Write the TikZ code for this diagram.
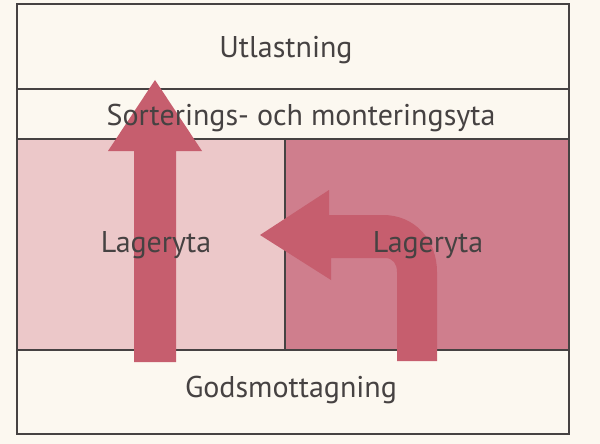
\documentclass[tikz,border=0pt]{standalone}
\usepackage{fontspec}
\setmainfont{PT Sans}
\definecolor{cream}{RGB}{252,248,240}
\definecolor{lightrose}{RGB}{236,200,201}
\definecolor{darkrose}{RGB}{207,126,141}
\definecolor{flowred}{RGB}{198,94,110}
\definecolor{inkgray}{RGB}{70,66,66}
\tikzset{
  band/.style={draw=inkgray,line width=1.6pt},
  lbl/.style={anchor=base,text=inkgray,inner sep=0pt,font=\fontsize{30}{34}\selectfont},
  flow/.style={fill=flowred,draw=none}
}
\begin{document}
\begin{tikzpicture}[x=1pt,y=-1pt]
\fill[cream] (0,0) rectangle (600,444);
\useasboundingbox (0,0) rectangle (600,444);

\fill[lightrose] (17,139) rectangle (285,350);
\fill[darkrose] (285,139) rectangle (569,350);
\draw[band] (17,4) rectangle (569,434);
\draw[band] (17,89) -- (569,89);
\draw[band] (17,139) -- (569,139);
\draw[band] (17,350) -- (569,350);
\draw[band] (285,139) -- (285,350);

% straight flow
\fill[flow] (134,362) -- (134,151) -- (108,151) -- (155,80) -- (202,151)
  -- (176,151) -- (176,362) -- cycle;
% turning flow
\fill[flow] (260,235) -- (329,190) -- (329,215) -- (383,215)
  .. controls (415,215) and (437,240) .. (437,272) -- (437,361) -- (397,361)
  -- (397,272) .. controls (397,264) and (393,258) .. (385,258)
  -- (331,258) -- (331,280) -- cycle;

\node[lbl] (utl) at (286,58) {Utlastning};
\node[lbl] (sort) at (301,125) {Sorterings- och monteringsyta};
\node[lbl] (lagv) at (156,252) {Lageryta};
\node[lbl] (lagh) at (428,252) {Lageryta};
\node[lbl] (gods) at (291,397) {Godsmottagning};
\end{tikzpicture}
\end{document}
